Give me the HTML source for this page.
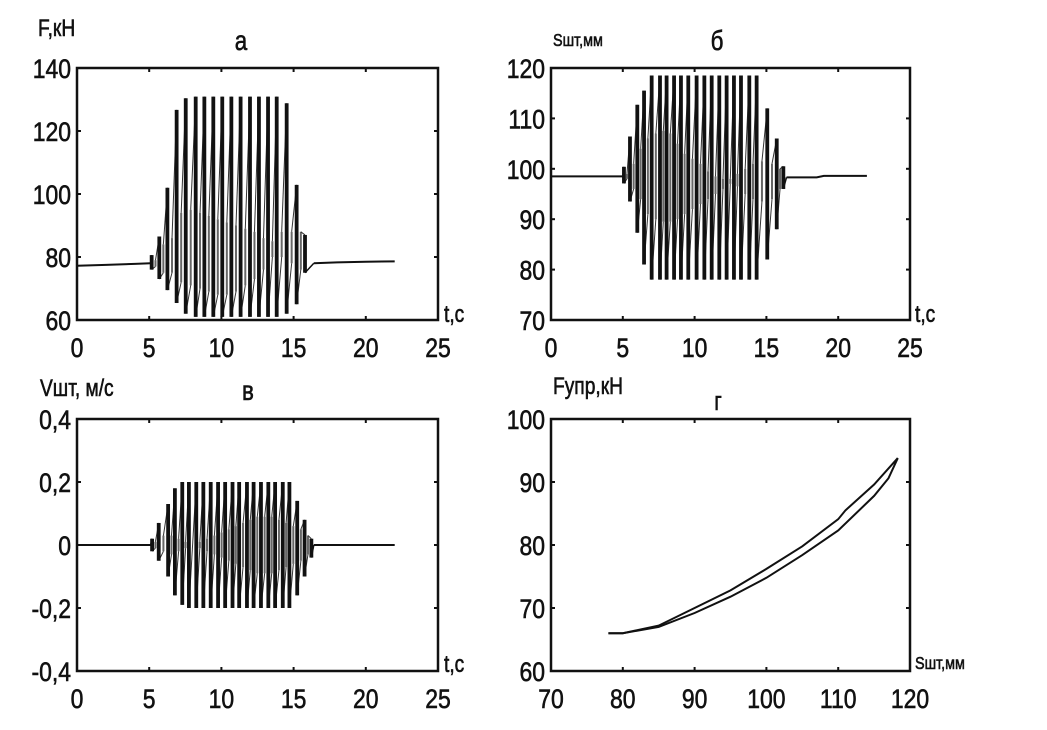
<!DOCTYPE html>
<html><head><meta charset="utf-8">
<style>
html,body{margin:0;padding:0;background:#fff;}
svg{display:block;}
text{font-family:"Liberation Sans","DejaVu Sans",sans-serif;fill:#111;stroke:#111;stroke-width:0.6;}
</style></head>
<body>
<svg id="fig" width="1047" height="730" viewBox="0 0 1047 730" xmlns="http://www.w3.org/2000/svg"></svg>
<script>
// ---- Panel a: force F (kN) vs t (s) ----
const aTicksX = [0,5,10,15,20,25];
const aTicksY = [60,80,100,120,140];
const aBase1 = [[0,77.2],[2,77.5],[4,77.8],[5.1,78]];
const aBase2 = [[16.4,78],[18,78.3],[20,78.5],[22,78.6]];
const aT   = [5.17,5.7,6.26,6.9,7.53,8.22,8.82,9.44,10.06,10.69,11.33,11.98,12.6,13.23,13.83,14.52,15.21,15.79];
const aMax = [80.6,86.5,102,126.7,130.4,130.9,130.9,130.9,130.9,130.9,130.9,130.9,130.9,130.9,130.9,128.8,102.9,87];
const aMin = [76,73,69.5,65.4,62,61,61,61,61,61,61,61,61,61,61,62,65,75];
const aInHi = [79,84,86,94,95,94,93,92,91,90,89,88,86,85,88,88,88,82];
const aInLo = [77,75,75,72,71,70,69,68,68,69,71,73,76,80,80,78,76,77];

// ---- Panel b: displacement S (mm) vs t ----
const bTicksX = [0,5,10,15,20,25];
const bTicksY = [70,80,90,100,110,120];
const bBase1 = [[0,98.5],[5.0,98.5]];
const bBase2 = [[16.4,98.3],[18.5,98.3],[19,98.6],[22,98.6]];
const bT   = [5.08,5.5,6.01,6.48,7.01,7.59,8.05,8.57,9.05,9.56,10.14,10.68,11.19,11.72,12.23,12.74,13.23,13.81,14.32,15.06,15.72,16.18];
const bMax = [100.4,106.4,112.7,115.5,118.5,118.5,118.5,118.5,118.5,118.5,118.5,118.5,118.5,118.5,118.5,118.5,118.5,118.5,118.5,112,106,100.5];
const bMin = [97.1,93.5,87.3,81,78,78,78,78,78,78,78,78,78,78,78,78,78,78,78,82,88,96];
const bInHi = [99,101,104,106,107,107.5,107,105,103,102,101,99.5,98.5,98,98,99,100,101,101.5,101,100,99];
const bInLo = [98,96,94,91,90,89.5,89.5,90,91,92,93,94,95,96,97,96.5,95,94,93.5,94,96,97.5];

// ---- Panel v: velocity V (m/s) vs t ----
const vTicksX = [0,5,10,15,20,25];
const vTicksY = [-0.4,-0.2,0,0.2,0.4];
const vBase1 = [[0,0],[5.1,0]];
const vBase2 = [[16.4,0],[22,0]];
const vT   = [5.2,5.66,6.31,6.78,7.29,7.75,8.26,8.75,9.26,9.77,10.26,10.77,11.23,11.77,12.23,12.74,13.25,13.72,14.25,14.71,15.25,15.76,16.23];
const vMax = [0.02,0.07,0.13,0.18,0.2,0.2,0.2,0.2,0.2,0.2,0.2,0.2,0.2,0.2,0.2,0.2,0.2,0.2,0.2,0.2,0.14,0.08,0.02];
const vMin = [-0.02,-0.05,-0.1,-0.16,-0.19,-0.2,-0.2,-0.2,-0.2,-0.2,-0.2,-0.2,-0.2,-0.2,-0.2,-0.2,-0.2,-0.2,-0.2,-0.2,-0.16,-0.1,-0.04];
const vInHi = [0.01,0.03,0.03,0.02,0.01,0.0,0.01,0.02,0.03,0.04,0.05,0.06,0.07,0.08,0.09,0.09,0.09,0.08,0.07,0.06,0.05,0.03,0.01];
const vInLo = [-0.01,-0.02,-0.03,-0.02,-0.01,0.0,-0.01,-0.02,-0.03,-0.04,-0.05,-0.06,-0.07,-0.08,-0.09,-0.09,-0.09,-0.08,-0.07,-0.06,-0.05,-0.03,-0.01];

// ---- Panel g: F_upr (kN) vs S (mm), hysteresis ----
const gTicksX = [70,80,90,100,110,120];
const gTicksY = [60,70,80,90,100];
const gUpperS = [78,80,85,90,95,100,105,110,111,115,118.3];
const gUpperF = [66,66,67.2,70,72.8,76.2,79.8,84.1,85.5,89.6,93.8];
const gLowerS = [78,80,85,90,95,100,105,110,115,117,118.3];
const gLowerF = [66,66,67,69.2,71.8,74.8,78.4,82.3,87.8,90.6,93.8];

const NS = "http://www.w3.org/2000/svg";
const svg = document.getElementById('fig');
function mk(tag, attrs, parent){
  const e = document.createElementNS(NS, tag);
  for (const k in attrs) e.setAttribute(k, attrs[k]);
  (parent||svg).appendChild(e);
  return e;
}
function txt(s, x, y, size, anchor, parent){
  const t = mk('text', {x:x, y:y, 'font-size':size, 'text-anchor':anchor||'start'}, parent);
  t.textContent = s;
  return t;
}
function fmt(v){ return String(v).replace('.', ','); }

function panel(id, box, xd, yd, ticksX, ticksY){
  const g = mk('g', {});
  
  
  const sx = v => box.l + (v - xd[0]) / (xd[1] - xd[0]) * (box.r - box.l);
  const sy = v => box.b - (v - yd[0]) / (yd[1] - yd[0]) * (box.b - box.t);
  const frame = mk('rect', {x:box.l, y:box.t, width:box.r-box.l, height:box.b-box.t, fill:'none', stroke:'#111', 'stroke-width':2.5}, g);
  
  
  const xt = mk('g', {}, g);
  
  
  ticksX.forEach(v => {
    const x = sx(v);
    mk('line', {x1:x, y1:box.b, x2:x, y2:box.b-4, stroke:'#111', 'stroke-width':2}, xt);
    mk('line', {x1:x, y1:box.t, x2:x, y2:box.t+4, stroke:'#111', 'stroke-width':2}, xt);
    const t = txt(fmt(v), x, box.b + 37, 27, 'middle', xt);
    t.setAttribute('transform', `translate(${x},0) scale(0.85,1) translate(${-x},0)`);
  });
  const yt = mk('g', {}, g);
  
  
  ticksY.forEach(v => {
    const y = sy(v);
    mk('line', {x1:box.l, y1:y, x2:box.l+4, y2:y, stroke:'#111', 'stroke-width':2}, yt);
    mk('line', {x1:box.r, y1:y, x2:box.r-4, y2:y, stroke:'#111', 'stroke-width':2}, yt);
    const xx = box.l - 6;
    const t = txt(fmt(v), xx, y + 10, 27, 'end', yt);
    t.setAttribute('transform', `translate(${xx},0) scale(0.85,1) translate(${-xx},0)`);
  });
  return {g, sx, sy};
}

function pathFrom(pts, sx, sy){
  return pts.map((p,i)=>(i?'L':'M')+sx(p[0]).toFixed(1)+','+sy(p[1]).toFixed(1)).join(' ');
}

function oscSeries(P, id, base1, base2, T, MX, MN, IH, IL){
  const s = mk('g', {}, P.g);
  
  
  mk('path', {d:pathFrom(base1, P.sx, P.sy), fill:'none', stroke:'#111', 'stroke-width':2}, s);
  mk('path', {d:pathFrom(base2, P.sx, P.sy), fill:'none', stroke:'#111', 'stroke-width':2}, s);
  const last1 = base1[base1.length-1], first2 = base2[0];
  for (let i = 0; i < T.length; i++){
    if (i < T.length - 1){
      const tm = (T[i] + T[i+1]) / 2;
      const h = mk('line', {x1:P.sx(tm), y1:P.sy(IH[i]), x2:P.sx(tm), y2:P.sy(IL[i]), stroke:'#666', 'stroke-width':2}, s);
      
      
      mk('line', {x1:P.sx(T[i]), y1:P.sy(MN[i]), x2:P.sx(tm), y2:P.sy(IL[i]), stroke:'#333', 'stroke-width':1}, s);
      mk('line', {x1:P.sx(tm), y1:P.sy(IH[i]), x2:P.sx(T[i+1]), y2:P.sy(MX[i+1]), stroke:'#333', 'stroke-width':1}, s);
    }
    const b = mk('line', {x1:P.sx(T[i]), y1:P.sy(MX[i]), x2:P.sx(T[i]), y2:P.sy(MN[i]), stroke:'#111', 'stroke-width':3.8}, s);
    
    
  }
  mk('line', {x1:P.sx(last1[0]), y1:P.sy(last1[1]), x2:P.sx(T[0]), y2:P.sy(MX[0]), stroke:'#111', 'stroke-width':1.5}, s);
  mk('line', {x1:P.sx(T[T.length-1]), y1:P.sy(MN[T.length-1]), x2:P.sx(first2[0]), y2:P.sy(first2[1]), stroke:'#111', 'stroke-width':1.5}, s);
}

const PA = panel('panel-a', {l:77,r:438,t:68,b:320}, [0,25], [60,140], aTicksX, aTicksY);
oscSeries(PA, 'force-series', aBase1, aBase2, aT, aMax, aMin, aInHi, aInLo);
const PB = panel('panel-b', {l:551,r:910,t:68,b:320}, [0,25], [70,120], bTicksX, bTicksY);
oscSeries(PB, 'displacement-series', bBase1, bBase2, bT, bMax, bMin, bInHi, bInLo);
const PV = panel('panel-v', {l:77,r:438,t:419,b:671}, [0,25], [-0.4,0.4], vTicksX, vTicksY);
oscSeries(PV, 'velocity-series', vBase1, vBase2, vT, vMax, vMin, vInHi, vInLo);
const PG = panel('panel-g', {l:551,r:910,t:419,b:671}, [70,120], [60,100], gTicksX, gTicksY);
const up = mk('path', {d:pathFrom(gUpperS.map((s,i)=>[s,gUpperF[i]]), PG.sx, PG.sy), fill:'none', stroke:'#111', 'stroke-width':2}, PG.g);


const lo = mk('path', {d:pathFrom(gLowerS.map((s,i)=>[s,gLowerF[i]]), PG.sx, PG.sy), fill:'none', stroke:'#111', 'stroke-width':2}, PG.g);



function label(s, x, y, size, name, anchor){
  const t = txt(s, x, y, size, anchor||'start');
  
  
  t.setAttribute('transform', `translate(${x},0) scale(0.8,1) translate(${-x},0)`);
}
label('F,кН', 38, 36, 24, 'y-axis-title-a');
label('а', 241, 50, 28, 'title-a', 'middle');
label('Sшт,мм', 553, 46, 18, 'y-axis-title-b');
label('б', 717, 50, 28, 'title-b', 'middle');
label('t,c', 444, 322, 24, 'x-axis-title-a');
label('t,c', 915, 322, 24, 'x-axis-title-b');
label('Vшт, м/с', 40, 396, 24, 'y-axis-title-v');
label('в', 248, 400, 28, 'title-v', 'middle');
label('Fупр,кН', 553, 394, 24, 'y-axis-title-g');
label('г', 718, 410, 26, 'title-g', 'middle');
label('t,c', 444, 672, 24, 'x-axis-title-v');
label('Sшт,мм', 915, 669, 18, 'x-axis-title-g');
</script>
</body></html>
